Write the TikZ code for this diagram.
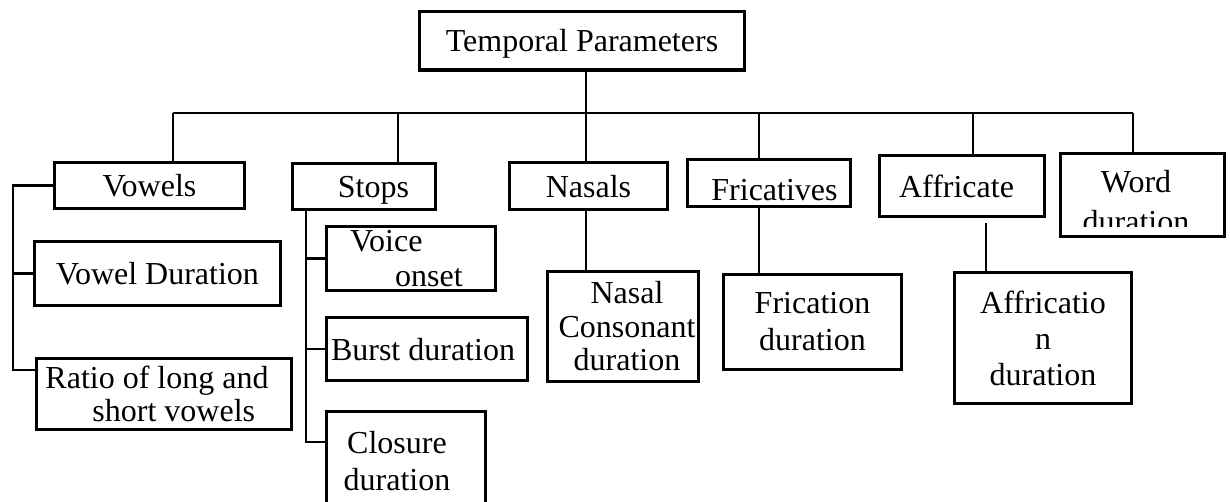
\documentclass[tikz,border=0pt]{standalone}
\usepackage{fontspec}
\setmainfont{Liberation Serif}
\tikzset{
  param/.style={draw,line width=3.5pt,inner sep=0pt,outer sep=0pt,align=center,
    font=\fontsize{32}{33.5}\selectfont},
  one/.style={param,text depth=0pt},
  link/.style={line width=2.3pt}
}
\begin{document}
\begin{tikzpicture}[x=1pt,y=-1pt]
  \path[use as bounding box,clip] (0,0) rectangle (1230,501);

  \node[one,minimum width=325pt,minimum height=58.5pt] (tp) at (582,40.75) {Temporal Parameters};

  % second row
  \node[one,minimum width=190pt,minimum height=46pt] (vw) at (149.5,185.5) {Vowels};
  \node[one,minimum width=143pt,minimum height=46pt] (st) at (364,186.5) {\hspace*{19pt}Stops};
  \node[one,minimum width=158pt,minimum height=47pt] (ns) at (588.5,186) {Nasals};
  \node[one,minimum width=163pt,minimum height=47pt,text height=34pt] (fr) at (769,183) {\hspace*{11pt}Fricatives};
  \node[one,minimum width=165pt,minimum height=61pt] (af) at (962,186) {Affricate\hspace*{11pt}};
  \begin{scope}
    \clip (1050,140) rectangle (1240,226);
    \node[param,minimum width=164pt,minimum height=83pt] (wd) at (1142.5,195)
      {\rule{0pt}{35.5pt}Word\hspace*{13pt}\\[6.5pt]duration\hspace*{13pt}};
  \end{scope}
  \draw[line width=3.5pt] (wd.south west) rectangle (wd.north east);

  % leaves
  \node[one,minimum width=246pt,minimum height=64pt] (vd) at (157.5,273.5) {Vowel Duration};
  \node[param,align=left,minimum width=255pt,minimum height=71pt] (rt) at (164,394)
    {Ratio of long and\hspace*{14pt}\\\hspace*{47pt}short vowels};
  \node[param,align=left,minimum width=169pt,minimum height=64pt] (vo) at (411,258.5)
    {Voice\\[1.5pt]\hspace*{45pt}onset\hspace*{9pt}};
  \node[one,minimum width=201pt,minimum height=63pt] (bu) at (427,349) {Burst duration\hspace*{8pt}};
  \node[param,minimum width=159pt,minimum height=98.5pt] (cl) at (406,460.75)
    {Closure\hspace*{18pt}\\[3.5pt]duration\hspace*{18pt}};
  \node[param,minimum width=151pt,minimum height=110pt] (nc) at (623,326.5)
    {\hspace*{8pt}Nasal\\\hspace*{8pt}Consonant\\\hspace*{8pt}duration};
  \node[param,minimum width=178pt,minimum height=95pt] (fd) at (812.5,322) {Frication\\[3.5pt]duration};
  \node[param,minimum width=177pt,minimum height=131pt] (afd) at (1043,338)
    {Affricatio\\[2.5pt]n\\[2.5pt]duration};

  % bar and drops
  \foreach \x/\n in {173/vw,398/st,586/ns,759/fr,973/af,1133/wd}
    \coordinate (d\n) at (\x,113);
  \draw[link] (dvw) -- (dwd);
  \draw[link] (dns |- tp.south) -- (dns);
  \foreach \n in {vw,st,ns,fr,af,wd}
    \draw[link] (d\n) -- (d\n |- \n.north);

  % vowels
  \coordinate (vtop) at (13,184);
  \coordinate (vbot) at (13,370);
  \draw[link] (vtop) -- (vbot) -- (rt.west |- vbot);
  \draw[link] (vw.west -| vtop) -- (vw.west);
  \draw[link] (vd.west -| vtop) -- (vd.west);

  % stops
  \coordinate (sbot) at (306,442);
  \draw[link] (st.south -| sbot) -- (sbot) -- (cl.west |- sbot);
  \foreach \n in {vo,bu}
    \draw[link] (\n.west -| sbot) -- (\n.west);

  \draw[link] (dns |- ns.south) -- (dns |- nc.north);
  \draw[link] (dfr |- fr.south) -- (dfr |- fd.north);
  \coordinate (agap) at (986,223);
  \draw[link] (agap) -- (agap |- afd.north);
\end{tikzpicture}
\end{document}
